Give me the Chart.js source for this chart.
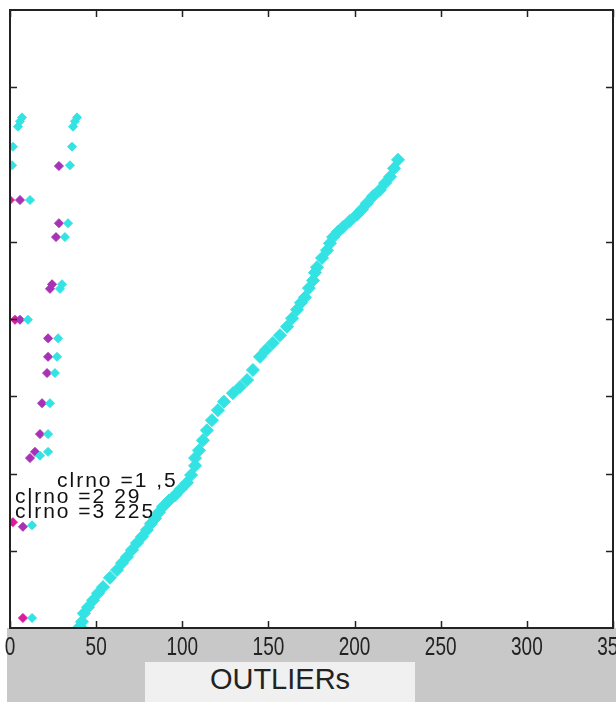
<!DOCTYPE html>
<html>
<head>
<meta charset="utf-8">
<title>OUTLIERs</title>
<script src="https://cdn.jsdelivr.net/npm/chart.js@4/dist/chart.umd.min.js"></script>
<style>
html, body { margin: 0; padding: 0; background: #fff; }
#wrap { position: relative; width: 616px; height: 702px; overflow: hidden; }
#btn {
	position: absolute; left: 145px; top: 662px; width: 270px; height: 40px;
	background: #f0f0f0; color: #222; text-align: center;
	font: 29px 'Liberation Sans', Arial, sans-serif; line-height: 34px;
}
</style>
</head>
<body>
<div id="wrap">
	<canvas id="chart" width="616" height="702"></canvas>
	<div id="btn">OUTLIERs</div>
</div>
<script>
// x axis ticks (labels shown) and y axis ticks (marks only)
const xTicks = [0, 50, 100, 150, 200, 250, 300, 350];
const xTickLabels = ['0', '50', '100', '150', '200', '250', '300', '350'];
const yTicks = [1, 2, 3, 4, 5, 7];

// clrno = 1 (magenta)
const clr1X = [0.0, 2.9, 1.7, 7.5];
const clr1Y = [5.54, 3.99, 1.37, 0.13];

// clrno = 2 (purple)
const clr2X = [28.4, 5.8, 28.4, 26.7, 23.2, 24.4, 5.8, 22.1, 22.1, 21.5, 18.6, 17.4, 11.6, 14.5, 7.5];
const clr2Y = [5.98, 5.54, 5.24, 5.06, 4.39, 4.45, 3.99, 3.75, 3.51, 3.30, 2.91, 2.51, 2.20, 2.28, 1.31];

// clrno = 3 (cyan): the small group on the left (first 25), then the long rising run
const clr3X = [
	4.6, 5.8, 7.0, 36.6, 37.7, 38.9, 1.7, 36.0, 1.2, 34.8, 11.6, 33.7, 31.9, 29.0, 30.2,
	10.4, 27.9, 27.3, 26.1, 23.2, 22.1, 17.4, 22.1, 12.8, 12.8,
	40.6, 41.8, 42.9, 45.3, 48.2, 51.1, 54.0, 58.0, 62.1, 65.0, 67.9, 70.8, 73.7, 76.6,
	79.5, 81.8, 84.2, 86.5, 88.8, 92.3, 95.8, 99.2, 102.7, 105.1, 107.4, 107.4, 109.7,
	112.0, 114.3, 117.2, 120.7, 124.2, 129.4, 133.5, 137.6, 141.0, 145.1, 148.6, 152.6,
	156.7, 160.8, 163.7, 166.6, 168.9, 171.2, 173.5, 175.9, 177.0, 178.2, 181.1, 184.0,
	185.7, 187.5, 190.4, 193.3, 197.3, 201.4, 204.3, 207.2, 210.7, 214.7, 217.7, 220.6,
	222.9, 225.2
];
const clr3Y = [
	6.49, 6.56, 6.61, 6.49, 6.56, 6.61, 6.23, 6.23, 5.99, 5.99, 5.54, 5.24, 5.06, 4.39, 4.45,
	3.99, 3.75, 3.51, 3.30, 2.91, 2.51, 2.23, 2.28, 1.33, 0.13,
	0.02, 0.08, 0.19, 0.27, 0.36, 0.45, 0.53, 0.65, 0.75, 0.84, 0.92, 1.01, 1.10, 1.18,
	1.27, 1.35, 1.42, 1.50, 1.57, 1.65, 1.72, 1.80, 1.88, 1.98, 2.10, 2.20, 2.30,
	2.43, 2.56, 2.69, 2.82, 2.93, 3.04, 3.12, 3.21, 3.34, 3.51, 3.60, 3.69,
	3.79, 3.90, 4.01, 4.12, 4.21, 4.28, 4.40, 4.50, 4.60, 4.67, 4.79, 4.89,
	4.98, 5.06, 5.13, 5.19, 5.27, 5.35, 5.42, 5.50, 5.59, 5.67, 5.76, 5.84,
	5.95, 6.06
];
const clr3Side = 25;

// text labels inside the axes
const noteTexts = ['clrno =1 ,5', 'clrno =2 29', 'clrno =3 225'];
const noteX = [27.3, 2.9, 2.9];
const noteY = [1.83, 1.62, 1.42];

function toPoints(xs, ys) {
	let pts = [];
	for (let i = 0; i < xs.length; i++) {
		pts.push({ x: xs[i], y: ys[i] });
	}
	return pts;
}

function series(label, xs, ys, color, r) {
	return {
		label: label,
		data: toPoints(xs, ys),
		pointStyle: 'rectRot',
		pointRadius: r,
		backgroundColor: color,
		borderColor: color,
		pointBorderWidth: 1,
		showLine: false
	};
}

const frame = {
	id: 'frame',
	beforeDraw(chart) {
		const ctx = chart.ctx;
		const a = chart.chartArea;
		ctx.save();
		ctx.fillStyle = '#c8c8c8';
		ctx.fillRect(7, a.bottom, chart.width - 7, chart.height - a.bottom);
		ctx.fillStyle = '#ffffff';
		ctx.fillRect(a.left, a.top, a.right - a.left, a.bottom - a.top);
		ctx.restore();
	},
	afterDatasetsDraw(chart) {
		const ctx = chart.ctx;
		const a = chart.chartArea;
		const xs = chart.scales.x;
		const ys = chart.scales.y;
		ctx.save();
		// box
		ctx.strokeStyle = '#222';
		ctx.lineWidth = 2;
		ctx.strokeRect(a.left, a.top, a.right - a.left, a.bottom - a.top);
		// inward tick marks
		ctx.lineWidth = 1.5;
		ctx.beginPath();
		xTicks.forEach(v => {
			const px = Math.round(xs.getPixelForValue(v)) + 0.5;
			ctx.moveTo(px, a.bottom); ctx.lineTo(px, a.bottom - 7);
			ctx.moveTo(px, a.top); ctx.lineTo(px, a.top + 7);
		});
		yTicks.forEach(v => {
			const py = Math.round(ys.getPixelForValue(v)) + 0.5;
			ctx.moveTo(a.left, py); ctx.lineTo(a.left + 7, py);
			ctx.moveTo(a.right, py); ctx.lineTo(a.right - 7, py);
		});
		ctx.stroke();
		// x tick labels, squeezed a little like the narrow original font
		ctx.fillStyle = '#222';
		ctx.font = "25px 'Liberation Sans', Arial, sans-serif";
		ctx.textAlign = 'center';
		ctx.textBaseline = 'alphabetic';
		for (let i = 0; i < xTicks.length; i++) {
			ctx.save();
			ctx.translate(xs.getPixelForValue(xTicks[i]), a.bottom + 27);
			ctx.scale(0.76, 1);
			ctx.fillText(xTickLabels[i], 0, 0);
			ctx.restore();
		}
		// notes
		ctx.fillStyle = '#111';
		ctx.font = "21px 'Liberation Sans', Arial, sans-serif";
		ctx.textAlign = 'left';
		ctx.letterSpacing = '2px';
		for (let i = 0; i < noteTexts.length; i++) {
			ctx.fillText(noteTexts[i], xs.getPixelForValue(noteX[i]), ys.getPixelForValue(noteY[i]));
		}
		ctx.restore();
	}
};

new Chart(document.getElementById('chart'), {
	type: 'scatter',
	data: {
		datasets: [
			series('clrno 3', clr3X, clr3Y, '#33e3e3', c => c.dataIndex < clr3Side ? 4.5 : 6.5),
			series('clrno 2', clr2X, clr2Y, '#a831b6', 4.5),
			series('clrno 1', clr1X, clr1Y, '#e0189e', 4.5)
		]
	},
	options: {
		responsive: false,
		animation: false,
		devicePixelRatio: 1,
		layout: {
			autoPadding: false,
			padding: { left: 10, top: 10, right: 3, bottom: 0 }
		},
		plugins: {
			legend: { display: false },
			tooltip: { enabled: false }
		},
		scales: {
			x: {
				type: 'linear',
				min: xTicks[0],
				max: xTicks[xTicks.length - 1],
				afterFit: scale => {
					scale.height = 74;
					scale.paddingLeft = 0;
					scale.paddingRight = 0;
				},
				grid: { display: false, drawTicks: false },
				border: { display: false },
				ticks: { display: false }
			},
			y: {
				type: 'linear',
				display: false,
				min: 0,
				max: 8
			}
		}
	},
	plugins: [frame]
});
</script>
</body>
</html>
